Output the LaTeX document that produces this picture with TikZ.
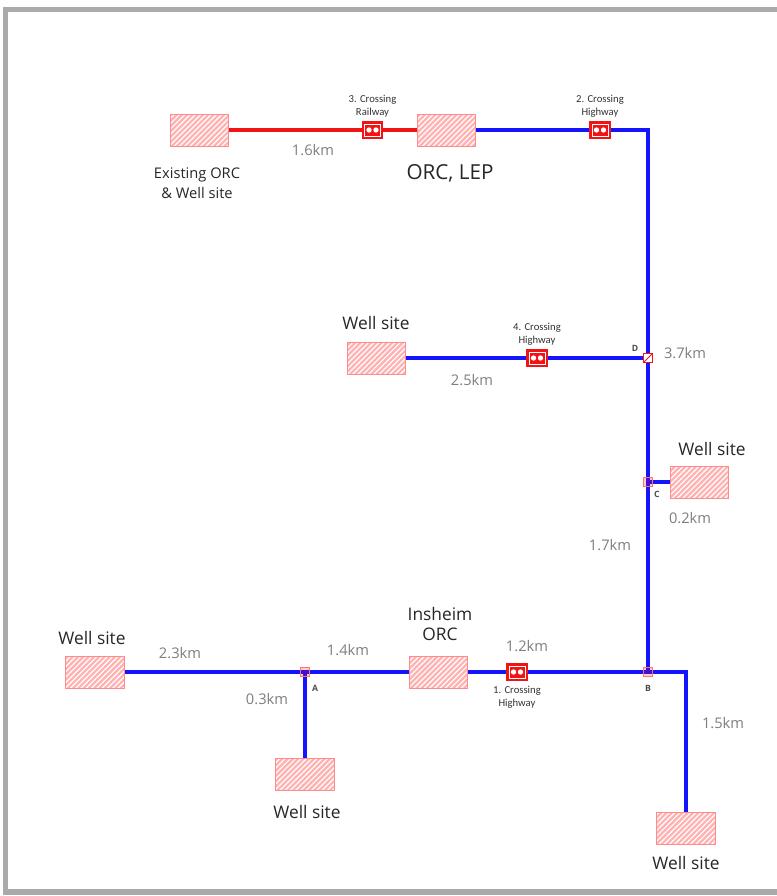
\documentclass[tikz,border=0pt]{standalone}
\usepackage{fontspec}
\setmainfont{Open Sans}
\newfontfamily\crossfont{Carlito}
\usetikzlibrary{positioning, patterns.meta, backgrounds}

\definecolor{pipeblue}{RGB}{20,20,255}
\definecolor{railred}{RGB}{240,20,20}
\definecolor{framegray}{RGB}{170,170,172}
\definecolor{kmgray}{RGB}{125,125,125}

\tikzset{
  site/.style={draw=red!45, line width=0.6pt, minimum width=44pt,
               minimum height=24pt, inner sep=0pt,
               preaction={fill=red!30},
               pattern={Lines[angle=45, distance=2.8pt, line width=0.9pt]},
               pattern color=white},
  crossing/.style={draw=railred, fill=railred, line width=0.8pt,
                   minimum width=15pt, minimum height=12pt, inner sep=0pt,
                   path picture={
                     \draw[white, line width=0.5pt]
                       ([shift={(1.6pt,-1.6pt)}]path picture bounding box.north west)
                       rectangle ([shift={(-1.6pt,1.6pt)}]path picture bounding box.south east);
                     \fill[white] ([xshift=-2.6pt]path picture bounding box.center) circle (2pt);
                     \fill[white] ([xshift=2.6pt]path picture bounding box.center) circle (2pt);
                   }},
  jct/.style={draw=red!55, fill=red, fill opacity=0.2, draw opacity=1,
              line width=0.8pt, minimum size=7pt, inner sep=0pt},
  pipe/.style={draw=pipeblue, line width=2.6pt},
  rail/.style={draw=railred, line width=2.6pt},
  lbl/.style={text=black!85, font=\fontsize{13}{15}\selectfont, align=center},
  km/.style={text=kmgray, font=\fontsize{11}{13}\selectfont},
  xlbl/.style={text=black!80, font=\crossfont\fontsize{8}{9.5}\selectfont,
               align=center, inner sep=1pt},
  pt/.style={text=black!70, font=\fontsize{6.5}{7}\selectfont\bfseries}
}

\begin{document}
\begin{tikzpicture}[x=0.75pt, y=-0.75pt]
  \useasboundingbox (0,0) rectangle (777,896);
  % frame
  \draw[framegray, line width=3.8pt] (777,9.5) -- (5.5,9.5) -- (5.5,892) -- (777,892);

  % sites
  \node[site] (exist) at (199.5,130) {};
  \node[site] (lep)   at (446.5,130) {};
  \node[site] (w4)    at (376.5,358) {};
  \node[site] (wc)    at (699.5,482) {};
  \node[site] (w1)    at (95,672) {};
  \node[site] (ins)   at (438.5,672) {};
  \node[site] (wa)    at (305,774) {};
  \node[site] (wb)    at (686,828) {};

  % crossings
  \node[crossing] (x3) at (372.5,130) {};
  \node[crossing] (x2) at (600,130) {};
  \node[crossing] (x4) at (537,358) {};
  \node[crossing] (x1) at (517,672) {};

  % junctions
  \node[jct, draw=railred, fill=white, fill opacity=1,
        path picture={\draw[railred, line width=0.6pt]
          (path picture bounding box.south west) -- (path picture bounding box.north east);}]
        (d) at (648,358) {};
  \node[jct] (c) at (648,482) {};
  \node[jct] (b) at (648,672) {};
  \node[jct] (a) at (305,672) {};
  \coordinate (k1) at (648,130);
  \coordinate (k2) at (686,672);

  % pipelines
  \begin{scope}[on background layer]
    \draw[rail] (exist) -- (x3) -- (lep);
    \draw[pipe] (lep) -- (x2) -- (k1) -- (d.center) -- (c.center) -- (b.center);
    \draw[pipe] (w4) -- (x4) -- (d.center);
    \draw[pipe] (c.center) -- (wc);
    \draw[pipe] (w1) -- (a.center) -- (ins) -- (x1) -- (b.center) -- (k2) -- (wb);
    \draw[pipe] (a.center) -- (wa);
  \end{scope}

  % crossing labels
  \node[xlbl, above=2pt of x3] (x3-t) {3. Crossing\\Railway};
  \node[xlbl, above=2pt of x2] (x2-t) {2. Crossing\\Highway};
  \node[xlbl, above=2pt of x4] (x4-t) {4. Crossing\\Highway};
  \node[xlbl, below=3pt of x1] (x1-t) {1. Crossing\\Highway};

  % site labels
  \node[lbl, font=\fontsize{11}{15}\selectfont] (exist-t) at (197,183) {Existing ORC\\\& Well site};
  \node[lbl, font=\fontsize{15.5}{18}\selectfont] (lep-t) at (450,173) {ORC, LEP};
  \node[lbl] (w4-t)  at (376,323) {Well site};
  \node[lbl] (wc-t)  at (712,449) {Well site};
  \node[lbl] (w1-t)  at (92,638)  {Well site};
  \node[lbl] (ins-t) at (440,624) {Insheim\\ORC};
  \node[lbl] (wa-t)  at (307,812) {Well site};
  \node[lbl] (wb-t)  at (686,863) {Well site};

  % distances
  \node[km] (k16) at (313,150) {1.6km};
  \node[km] (k25) at (472,380) {2.5km};
  \node[km] (k37) at (685,353) {3.7km};
  \node[km] (k02) at (690,518) {0.2km};
  \node[km] (k17) at (610,545) {1.7km};
  \node[km] (k23) at (180,653) {2.3km};
  \node[km] (k14) at (348,650) {1.4km};
  \node[km] (k03) at (267,699) {0.3km};
  \node[km] (k12) at (527,646) {1.2km};
  \node[km] (k15) at (723,723) {1.5km};

  % junction letters
  \node[pt] (d-t) at (635,348) {D};
  \node[pt] (c-t) at (657,494) {C};
  \node[pt] (b-t) at (648,688) {B};
  \node[pt] (a-t) at (315,688) {A};
\end{tikzpicture}
\end{document}
